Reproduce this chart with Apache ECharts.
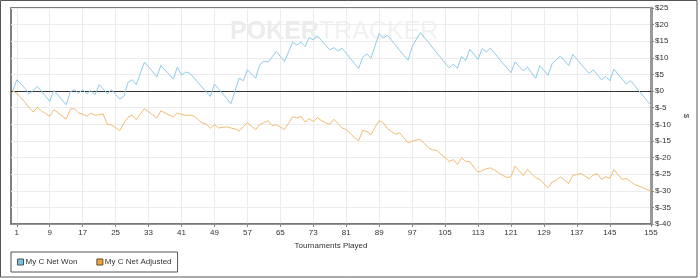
<!DOCTYPE html>
<html>
<head>
<meta charset="utf-8">
<script src="https://cdn.jsdelivr.net/npm/echarts@6/dist/echarts.min.js"></script>
<style>
html,body{margin:0;padding:0;background:#fff;}
#c{width:700px;height:278px;}
</style>
</head>
<body>
<div id="c"></div>
<script>
// Tournament index 0..155
const netWon = [
 0, 3.4, 2.2, 0.8, -0.9, 0.2, 1.4, 0.0, -1.6, -3.1,
 0.2, -1.2, -2.7, -4.1, -0.2, 0.4, -0.6, 0.4, -0.8, 0.2,
 -1.1, 1.9, 0.6, -0.8, 0.4, -1.0, -2.4, -1.6, 2.6, 3.4,
 1.9, 5.3, 8.7, 7.3, 5.8, 4.3, 7.7, 6.3, 5.0, 3.6,
 7.2, 4.8, 5.7, 5.4, 4.0, 2.6, 1.2, -0.2, -1.6, 2.1,
 0.7, -0.8, -2.3, -3.8, 0.1, 3.9, 3.1, 6.4, 5.1, 3.9,
 7.9, 9.0, 8.7, 10.3, 11.9, 10.4, 8.9, 11.8, 14.7, 13.9,
 14.7, 13.4, 16.1, 15.4, 16.6, 15.2, 13.8, 12.4, 13.1, 12.0,
 12.9, 11.4, 9.8, 8.3, 6.8, 10.2, 11.2, 9.9, 13.6, 17.3,
 16.0, 16.8, 15.3, 13.8, 12.2, 10.7, 9.3, 13.4, 15.5, 17.6,
 16.1, 14.6, 13.0, 11.5, 10.0, 8.4, 7.0, 8.1, 6.9, 10.4,
 9.2, 12.6, 11.1, 9.5, 12.8, 11.8, 12.9, 11.5, 9.9, 8.4,
 7.0, 5.5, 8.8, 7.4, 6.1, 7.2, 5.5, 3.9, 7.6, 6.2,
 4.8, 8.3, 9.4, 10.5, 9.1, 7.7, 11.0, 9.6, 8.1, 6.7,
 5.3, 6.4, 4.9, 3.4, 4.4, 3.1, 6.6, 5.1, 3.6, 2.1,
 3.2, 1.7, 0.2, -1.3, -2.8, -4.3
];
const netAdjusted = [
 0, -0.6, -2.0, -3.4, -5.0, -6.3, -4.9, -6.0, -6.8, -7.6,
 -5.6, -6.5, -7.5, -8.4, -5.4, -5.3, -6.6, -6.9, -7.6, -6.6,
 -7.3, -7.1, -6.9, -10.0, -10.2, -11.0, -11.9, -9.7, -7.9, -7.2,
 -8.6, -6.9, -5.3, -6.2, -7.1, -8.1, -5.9, -6.6, -7.2, -7.8,
 -6.6, -7.0, -7.3, -7.2, -7.5, -8.5, -9.6, -9.9, -11.2, -10.1,
 -11.1, -10.9, -10.8, -11.1, -11.4, -12.0, -10.8, -9.5, -10.6, -11.6,
 -10.1, -9.5, -8.9, -10.4, -10.1, -10.8, -11.6, -9.6, -7.7, -8.1,
 -7.6, -9.3, -8.3, -9.2, -8.0, -8.9, -9.5, -10.0, -8.5, -9.8,
 -11.1, -11.6, -12.8, -14.0, -15.0, -11.8, -12.2, -13.1, -10.9, -8.9,
 -9.6, -11.3, -12.2, -13.0, -12.6, -14.1, -15.6, -15.1, -14.7, -14.6,
 -15.8, -17.1, -17.7, -17.9, -19.0, -20.0, -21.2, -20.6, -22.1, -20.1,
 -21.1, -21.3, -22.9, -24.4, -23.9, -23.4, -23.1, -23.8, -24.6, -25.4,
 -26.0, -25.8, -22.6, -24.0, -25.4, -23.6, -24.9, -26.1, -26.6, -27.9,
 -29.1, -27.4, -26.9, -25.8, -26.8, -27.8, -25.4, -25.1, -24.8, -25.6,
 -26.4, -25.2, -24.9, -26.6, -25.8, -26.3, -23.6, -25.1, -26.6, -26.3,
 -27.2, -28.1, -28.6, -29.1, -29.6, -30.1
];
const xTicks = [1, 9, 17, 25, 33, 41, 49, 57, 65, 73, 81, 89, 97, 105, 113, 121, 129, 137, 145, 155];
const seriesNames = ['My C Net Won', 'My C Net Adjusted'];
const xTitle = 'Tournaments Played';
const yTitle = '$';

const toPairs = arr => arr.map((v, i) => [i, v]);
const font = 'Liberation Sans, Arial, sans-serif';
const chart = echarts.init(document.getElementById('c'), null, {renderer: 'canvas'});
chart.setOption({
  animation: false,
  backgroundColor: '#fff',
  textStyle: {fontFamily: font},
  grid: {left: 11, right: 49, top: 8, bottom: 54, show: true, borderColor: '#555', borderWidth: 1.5, containLabel: false},
  graphic: [
    {type: 'rect', silent: true, z: 100, shape: {x: 0.5, y: 0.5, width: 696.5, height: 276.5},
     style: {fill: 'none', stroke: '#555', lineWidth: 1}},
    {type: 'text', silent: true, z: 0, left: 230, top: 20,
     style: {text: '{a|POKER}{b|TRACKER}', rich: {
       a: {fontSize: 25, fontWeight: 'bold', fill: '#ececec', fontFamily: font},
       b: {fontSize: 25, fontWeight: 'normal', fill: '#f1f1f1', fontFamily: font}
     }}}
  ],
  legend: {
    left: 11, top: 252, orient: 'horizontal',
    padding: [6, 6, 6, 6],
    itemWidth: 6, itemHeight: 6, itemGap: 19,
    icon: 'rect',
    borderColor: '#555', borderWidth: 1,
    textStyle: {fontSize: 8, color: '#333', fontFamily: font, padding: [0, 0, 0, -3]},
    itemStyle: {borderColor: '#444', borderWidth: 1},
    data: [
      {name: seriesNames[0], itemStyle: {color: '#7fbfe0', borderColor: '#3a5a6a', borderWidth: 1}},
      {name: seriesNames[1], itemStyle: {color: '#f0a53c', borderColor: '#6a4a2a', borderWidth: 1}}
    ]
  },
  xAxis: {
    type: 'value', min: -0.4, max: 155,
    name: xTitle, nameLocation: 'middle', nameGap: 16,
    nameTextStyle: {fontSize: 8, color: '#333', fontFamily: font},
    axisLine: {show: true, onZero: false, lineStyle: {color: '#777', width: 1.5}},
    axisTick: {show: true, length: 3, inside: false, customValues: xTicks, lineStyle: {color: '#888'}},
    axisLabel: {show: true, fontSize: 8, color: '#333', margin: 5, customValues: xTicks, fontFamily: font},
    splitLine: {show: true, lineStyle: {color: '#ececec', width: 1}}
  },
  yAxis: {
    type: 'value', position: 'right', min: -40, max: 25, interval: 5,
    name: yTitle, nameLocation: 'middle', nameGap: 30, nameRotate: -90,
    nameTextStyle: {fontSize: 8, color: '#333', fontFamily: font},
    axisLine: {show: true, onZero: false, lineStyle: {color: '#999', width: 3}},
    axisTick: {show: true, length: 3, inside: false, lineStyle: {color: '#888'}},
    axisLabel: {show: true, fontSize: 8, color: '#333', margin: 4, fontFamily: font,
      formatter: v => '$' + v},
    splitLine: {show: true, lineStyle: {color: '#ececec', width: 1}}
  },
  series: [
    {name: seriesNames[0], type: 'line', data: toPairs(netWon), showSymbol: false, symbol: 'none',
     color: '#8fcae6', lineStyle: {color: '#8fcae6', width: 1}, z: 3,
     markLine: {silent: true, symbol: 'none', label: {show: false},
       lineStyle: {color: '#333', width: 1, type: 'solid'}, data: [{yAxis: 0}], z: 2}},
    {name: seriesNames[1], type: 'line', data: toPairs(netAdjusted), showSymbol: false, symbol: 'none',
     color: '#f0bb72', lineStyle: {color: '#f0bb72', width: 1}, z: 3}
  ]
});
</script>
</body>
</html>
